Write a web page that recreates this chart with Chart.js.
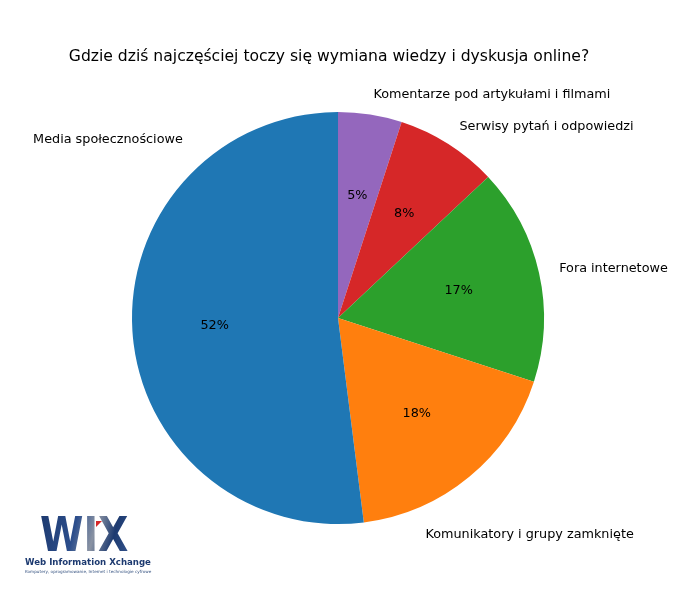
<!DOCTYPE html>
<html lang="pl">
<head>
    <meta charset="UTF-8">
    <title>Wymiana wiedzy online</title>
    <script src="https://cdn.jsdelivr.net/npm/chart.js"></script>
    <style>
        html, body { margin: 0; padding: 0; background: #fff; }
        #wrap { width: 700px; height: 600px; position: relative; }
    </style>
</head>
<body>
    <div id="wrap"><canvas id="pieChart"></canvas></div>

    <script>
        // dane (kolejność zgodnie z ruchem wskazówek zegara od góry)
        const categories = [
            'Komentarze pod artykułami i filmami',
            'Serwisy pytań i odpowiedzi',
            'Fora internetowe',
            'Komunikatory i grupy zamknięte',
            'Media społecznościowe'
        ];
        const shares = [5, 8, 17, 18, 52];
        const sliceColors = ['#9467bd', '#d62728', '#2ca02c', '#ff7f0e', '#1f77b4'];
        const chartTitle = 'Gdzie dziś najczęściej toczy się wymiana wiedzy i dyskusja online?';

        // ręczne przesunięcia etykiet (px), tak jak na oryginale
        const labelNudge = { 3: { dx: -57, dy: 42 }, 4: { dx: 71, dy: -193 } };

        const FONT = '"DejaVu Sans", sans-serif';

        const pieText = {
            id: 'pieText',
            afterDraw(chart) {
                const ctx = chart.ctx;
                const arcs = chart.getDatasetMeta(0).data;
                ctx.save();

                // tytuł
                ctx.fillStyle = '#000';
                ctx.font = '15.6px ' + FONT;
                ctx.textAlign = 'center';
                ctx.textBaseline = 'middle';
                ctx.fillText(chartTitle, 329, 57);

                arcs.forEach((arc, i) => {
                    const p = arc.getProps(['x', 'y', 'startAngle', 'endAngle', 'outerRadius'], true);
                    const mid = (p.startAngle + p.endAngle) / 2;

                    // procenty
                    ctx.font = '12.8px ' + FONT;
                    ctx.textAlign = 'center';
                    const r1 = p.outerRadius * 0.6;
                    ctx.fillText(shares[i] + '%', p.x + r1 * Math.cos(mid), p.y + r1 * Math.sin(mid));

                    // etykiety
                    const r2 = p.outerRadius * 1.1;
                    let lx = p.x + r2 * Math.cos(mid);
                    let ly = p.y + r2 * Math.sin(mid);
                    ctx.textAlign = Math.cos(mid) >= 0 ? 'left' : 'right';
                    if (labelNudge[i]) { lx += labelNudge[i].dx; ly += labelNudge[i].dy; }
                    ctx.fillText(categories[i], lx, ly);
                });

                // logo
                ctx.textAlign = 'left';
                ctx.save();
                ctx.translate(40, 539);
                ctx.scale(0.82, 1);
                ctx.font = 'bold 48px ' + FONT;
                const g = ctx.createLinearGradient(0, -18, 115, 18);
                g.addColorStop(0, '#1d3a70');
                g.addColorStop(0.35, '#2c4e8c');
                g.addColorStop(0.55, '#8a93a3');
                g.addColorStop(0.75, '#1d3a70');
                g.addColorStop(1, '#3a5a94');
                ctx.fillStyle = g;
                ctx.fillText('WIX', 0, 0);
                ctx.restore();
                ctx.fillStyle = '#d62728';
                ctx.beginPath();
                ctx.moveTo(96, 521); ctx.lineTo(102, 521); ctx.lineTo(96, 527);
                ctx.fill();
                ctx.fillStyle = '#1d3a70';
                ctx.font = 'bold 8.6px ' + FONT;
                ctx.fillText('Web Information Xchange', 25, 563);
                ctx.font = '4.2px ' + FONT;
                ctx.fillStyle = '#33507f';
                ctx.fillText('Komputery, oprogramowanie, Internet i technologie cyfrowe', 25, 572);

                ctx.restore();
            }
        };

        new Chart(document.getElementById('pieChart'), {
            type: 'pie',
            data: {
                labels: categories,
                datasets: [{
                    data: shares,
                    backgroundColor: sliceColors,
                    borderWidth: 0
                }]
            },
            options: {
                responsive: true,
                maintainAspectRatio: false,
                animation: false,
                layout: { padding: { left: 132, right: 156, top: 112, bottom: 76 } },
                plugins: {
                    legend: { display: false },
                    tooltip: { enabled: false },
                    title: { display: false }
                }
            },
            plugins: [pieText]
        });
    </script>
</body>
</html>
